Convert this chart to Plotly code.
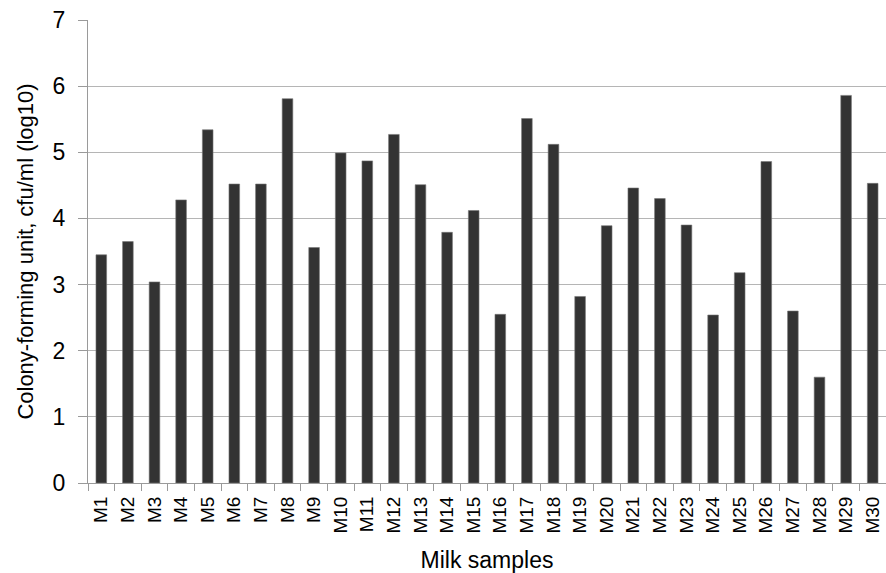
import plotly.graph_objects as go

samples = [f"M{i}" for i in range(1, 31)]
cfu_log10 = [3.45, 3.65, 3.04, 4.28, 5.34, 4.52, 4.52, 5.81, 3.56, 4.99,
             4.87, 5.27, 4.51, 3.79, 4.12, 2.55, 5.51, 5.12, 2.82, 3.89,
             4.46, 4.30, 3.90, 2.54, 3.18, 4.86, 2.60, 1.60, 5.86, 4.53]
y_ticks = [0, 1, 2, 3, 4, 5, 6, 7]

FONT = "Liberation Sans, Arial, sans-serif"

fig = go.Figure(go.Bar(
    x=samples, y=cfu_log10,
    marker=dict(color="#333333", line=dict(color="#777777", width=0.6)),
))

fig.update_layout(
    width=886, height=573,
    margin=dict(l=88, r=0, t=20, b=90),
    plot_bgcolor="white", paper_bgcolor="white",
    bargap=0.6, showlegend=False,
    font=dict(family=FONT, color="black"),
)
fig.update_xaxes(
    range=[-0.5, 29.5], tickangle=-90, tickfont=dict(size=19),
    ticks="outside", tickson="boundaries", ticklen=7, tickcolor="#9a9a9a",
    ticklabelstandoff=5,
    showline=True, linecolor="#9a9a9a", linewidth=1, showgrid=False,
    title=dict(text="Milk samples", font=dict(size=23), standoff=20),
    automargin=False,
)
fig.update_yaxes(
    range=[0, 7], tickvals=y_ticks, tickfont=dict(size=23),
    ticks="outside", ticklen=9, tickcolor="#9a9a9a",
    ticklabelstandoff=8, ticklabeloverflow="allow",
    showline=True, linecolor="#9a9a9a", linewidth=1,
    showgrid=True, gridcolor="#b5b5b5", gridwidth=1, zeroline=False,
    title=dict(text="Colony-forming unit, cfu/ml (log10)", font=dict(size=22), standoff=12),
    automargin=False,
)

fig.write_html(
    "out.html",
    config={"displayModeBar": False},
    post_script="document.body.style.margin='0';document.body.style.overflow='hidden';",
)
